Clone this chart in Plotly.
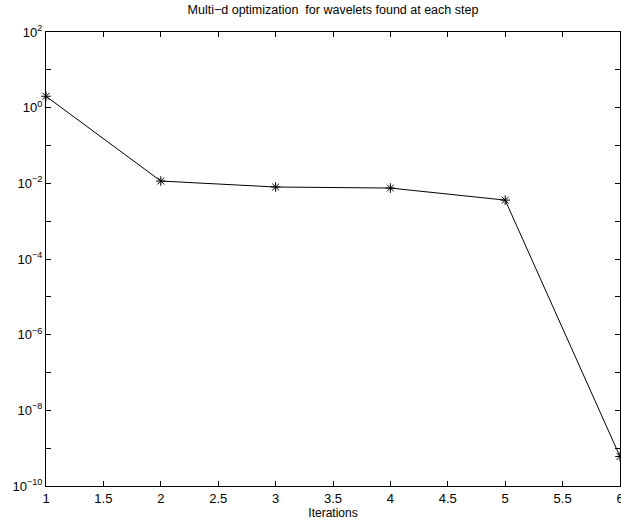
import plotly.graph_objects as go

iterations = [1, 2, 3, 4, 5, 6]
values = [2.0, 0.0115, 0.0080, 0.0075, 0.0036, 6e-10]
title_text = "Multi\u2212d optimization  for wavelets found at each step"
x_ticks = [1, 1.5, 2, 2.5, 3, 3.5, 4, 4.5, 5, 5.5, 6]
y_tick_vals = [1e-10, 1e-9, 1e-8, 1e-7, 1e-6, 1e-5, 1e-4, 1e-3, 1e-2, 1e-1, 1, 10, 100]
y_tick_text = ["10<sup>\u221210</sup>", "", "10<sup>\u22128</sup>", "", "10<sup>\u22126</sup>", "",
               "10<sup>\u22124</sup>", "", "10<sup>\u22122</sup>", "", "10<sup>0</sup>", "", "10<sup>2</sup>"]

fig = go.Figure()
fig.add_trace(go.Scatter(
    x=iterations, y=values, mode="lines+markers",
    line=dict(color="black", width=1),
    marker=dict(symbol="asterisk-open", size=8, color="black", line=dict(width=1, color="black")),
    cliponaxis=False, showlegend=False,
))

fig.update_layout(
    width=621, height=521,
    margin=dict(l=46, r=1, t=32, b=35),
    paper_bgcolor="white", plot_bgcolor="white",
    font=dict(family="Liberation Sans, Arial, sans-serif", size=13, color="black"),
    title=dict(text=title_text, x=0.5, xanchor="center", y=0.99, yanchor="top",
               font=dict(family="Liberation Sans, Arial, sans-serif", size=12.5, color="black"),
               xref="paper"),
    xaxis=dict(range=[1, 6], tickvals=x_ticks, ticktext=[str(t) for t in x_ticks],
               ticks="inside", ticklen=5, tickcolor="black", showline=True, linecolor="black",
               linewidth=1, mirror="ticks", showgrid=False, zeroline=False,
               ticklabeloverflow="allow", automargin=False,
               title=dict(text="Iterations", standoff=0, font=dict(size=12)),
               tickfont=dict(size=13)),
    yaxis=dict(type="log", range=[-10, 2], tickvals=y_tick_vals, ticktext=y_tick_text,
               ticks="inside", ticklen=5, tickcolor="black", showline=True, linecolor="black",
               linewidth=1, mirror="ticks", showgrid=False, zeroline=False,
               automargin=False, tickfont=dict(size=13)),
)
fig.write_html("out.html")
